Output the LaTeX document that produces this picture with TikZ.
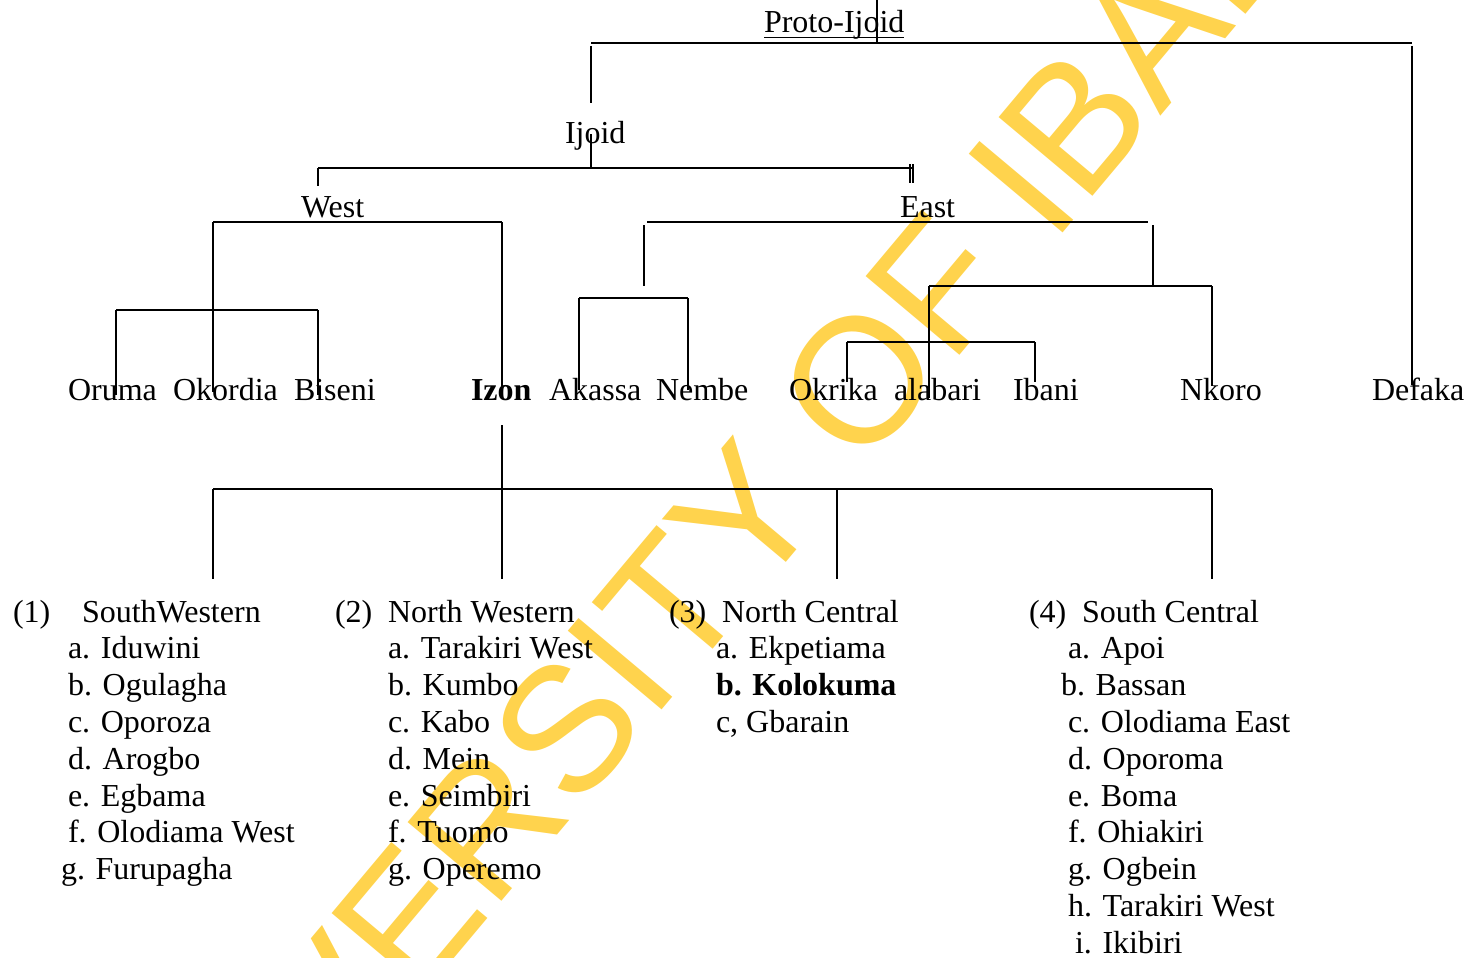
\documentclass[tikz,border=0pt]{standalone}
\usepackage{fontspec}
\setmainfont{Liberation Serif}
\newfontfamily\wmfont{Liberation Sans}
\definecolor{wmyellow}{RGB}{255,211,77}
\begin{document}
\begin{tikzpicture}[x=1pt,y=-1pt,
  lbl/.style={anchor=base west,inner sep=0pt,outer sep=0pt,font=\fontsize{32}{38}\selectfont},
  boldlbl/.style={lbl,font=\fontsize{32}{38}\selectfont\bfseries},
  branch/.style={draw=black,line width=1.5pt},
  seal/.style={anchor=base west,inner sep=0pt,rotate=50,text=wmyellow,
    font=\wmfont\fontsize{178}{200}\selectfont}]
\useasboundingbox (0,0) rectangle (1470,958);

% diagonal stamp behind the tree
\begin{scope}
  \clip (0,0) rectangle (1470,958);
  \node[seal] (stamp) at (143,1329) {UNIVERSITY OF IBADAN};
\end{scope}

% ---- labels of the family tree ----
\node[lbl] (proto) at (764,33) {Proto-Ijoid};
\node[lbl] (ijoid) at (565,143) {Ijoid};
\node[lbl] (west) at (301,217) {West};
\node[lbl] (east) at (900,217) {East};

\node[lbl] (oruma)   at (68,400)   {Oruma};
\node[lbl] (okordia) at (173,400)  {Okordia};
\node[lbl] (biseni)  at (294,400)  {Biseni};
\node[boldlbl] (izon) at (471,400) {Izon};
\node[lbl] (akassa)  at (549,400)  {Akassa};
\node[lbl] (nembe)   at (656,400)  {Nembe};
\node[lbl] (okrika)  at (789,400)  {Okrika};
\node[lbl] (alabari) at (894,400)  {alabari};
\node[lbl] (ibani)   at (1013,400) {Ibani};
\node[lbl] (nkoro)   at (1180,400) {Nkoro};
\node[lbl] (defaka)  at (1372,400) {Defaka};

% underline of the root label
\draw[line width=1.5pt] ([yshift=-4.5pt]proto.base west) -- ([yshift=-4.5pt]proto.base east);

% ---- dialect groups of Izon ----
\node[lbl] (n1) at (13,622)  {(1)};
\node[lbl] (g1) at (82,622)  {SouthWestern};
\node[lbl] at (68,658) {a. Iduwini};
\node[lbl] at (68,695) {b. Ogulagha};
\node[lbl] at (68,732) {c. Oporoza};
\node[lbl] at (68,769) {d. Arogbo};
\node[lbl] at (68,806) {e. Egbama};
\node[lbl] at (68,842) {f. Olodiama West};
\node[lbl] at (61,879) {g. Furupagha};

\node[lbl] (n2) at (335,622) {(2)};
\node[lbl] (g2) at (388,622) {North Western};
\node[lbl] at (388,658) {a. Tarakiri West};
\node[lbl] at (388,695) {b. Kumbo};
\node[lbl] at (388,732) {c. Kabo};
\node[lbl] at (388,769) {d. Mein};
\node[lbl] at (388,806) {e. Seimbiri};
\node[lbl] at (388,842) {f. Tuomo};
\node[lbl] at (388,879) {g. Operemo};

\node[lbl] (n3) at (669,622) {(3)};
\node[lbl] (g3) at (722,622) {North Central};
\node[lbl] at (716,658) {a. Ekpetiama};
\node[boldlbl] at (716,695) {b. Kolokuma};
\node[lbl] at (716,732) {c, Gbarain};

\node[lbl] (n4) at (1029,622) {(4)};
\node[lbl] (g4) at (1082,622) {South Central};
\node[lbl] at (1068,658) {a. Apoi};
\node[lbl] at (1061,695) {b. Bassan};
\node[lbl] at (1068,732) {c. Olodiama East};
\node[lbl] at (1068,769) {d. Oporoma};
\node[lbl] at (1068,806) {e. Boma};
\node[lbl] at (1068,842) {f. Ohiakiri};
\node[lbl] at (1068,879) {g. Ogbein};
\node[lbl] at (1068,916) {h. Tarakiri West};
\node[lbl] at (1075,953) {i. Ikibiri};

% ---- branch points ----
\coordinate (rootTop) at (877,0);
\coordinate (rootJ)   at (877,43);
\coordinate (topL)    at (591,43);
\coordinate (topR)    at (1412,43);
\coordinate (ijoidUp) at (591,46);
\coordinate (ijoidIn) at (591,103);
\coordinate (defUp)   at (1412,46);
\coordinate (defIn)   at (1412,385);

\coordinate (ijoidOut) at (591,134);
\coordinate (ijoidJ)   at (591,168);
\coordinate (iwL)      at (318,168);
\coordinate (iwLd)     at (318,186);
\coordinate (ieR)      at (912,168);
\coordinate (tickAu)   at (910,164);
\coordinate (tickAd)   at (910,183);
\coordinate (tickBu)   at (913,164);
\coordinate (tickBd)   at (913,183);

\coordinate (wL)     at (213,222);
\coordinate (wR)     at (502,222);
\coordinate (wLd)    at (213,392);
\coordinate (izonIn) at (502,398);
\coordinate (sL)     at (116,310);
\coordinate (sR)     at (318,310);
\coordinate (orumaIn)  at (116,395);
\coordinate (biseniIn) at (318,395);

\coordinate (eL)   at (647,222);
\coordinate (eR)   at (1148,222);
\coordinate (eLu)  at (644,225);
\coordinate (eLd)  at (644,286);
\coordinate (eRu)  at (1153,225);
\coordinate (eRd)  at (1153,286);

\coordinate (anL)  at (579,298);
\coordinate (anR)  at (688,298);
\coordinate (akassaIn) at (579,390);
\coordinate (nembeIn)  at (688,390);

\coordinate (rgL)  at (929,286);
\coordinate (rgR)  at (1212,286);
\coordinate (alabariIn) at (929,398);
\coordinate (nkoroIn)   at (1212,386);
\coordinate (igL)  at (847,342);
\coordinate (igR)  at (1035,342);
\coordinate (okrikaIn) at (847,382);
\coordinate (ibaniIn)  at (1035,382);

\coordinate (izonOut) at (502,425);
\coordinate (izonJ)   at (502,489);
\coordinate (dL)  at (213,489);
\coordinate (dR)  at (1212,489);
\coordinate (d1)  at (213,579);
\coordinate (d2)  at (502,579);
\coordinate (d3t) at (837,489);
\coordinate (d3)  at (837,579);
\coordinate (d4)  at (1212,579);

% ---- branches ----
\draw[branch] (rootTop) -- (rootJ);
\draw[branch] (topL) -- (topR);
\draw[branch] (ijoidUp) -- (ijoidIn);
\draw[branch] (defUp) -- (defIn);

\draw[branch] (ijoidOut) -- (ijoidJ);
\draw[branch] (iwL) -- (ieR);
\draw[branch] (iwL) -- (iwLd);
\draw[line width=1.2pt] (tickAu) -- (tickAd);
\draw[line width=1.2pt] (tickBu) -- (tickBd);

\draw[branch] (wL) -- (wR);
\draw[branch] (wL) -- (wLd);
\draw[branch] (wR) -- (izonIn);
\draw[branch] (sL) -- (sR);
\draw[branch] (sL) -- (orumaIn);
\draw[branch] (sR) -- (biseniIn);

\draw[branch] (eL) -- (eR);
\draw[branch] (eLu) -- (eLd);
\draw[branch] (eRu) -- (eRd);
\draw[branch] (anL) -- (anR);
\draw[branch] (anL) -- (akassaIn);
\draw[branch] (anR) -- (nembeIn);

\draw[branch] (rgL) -- (rgR);
\draw[branch] (rgL) -- (alabariIn);
\draw[branch] (rgR) -- (nkoroIn);
\draw[branch] (igL) -- (igR);
\draw[branch] (igL) -- (okrikaIn);
\draw[branch] (igR) -- (ibaniIn);

\draw[branch] (izonOut) -- (izonJ);
\draw[branch] (dL) -- (dR);
\draw[branch] (dL) -- (d1);
\draw[branch] (izonJ) -- (d2);
\draw[branch] (d3t) -- (d3);
\draw[branch] (dR) -- (d4);
\end{tikzpicture}
\end{document}
